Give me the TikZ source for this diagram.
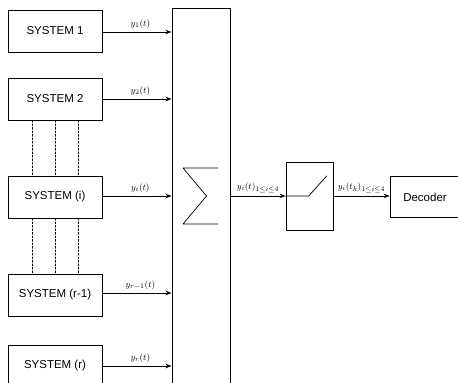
\documentclass[tikz,border=0pt]{standalone}
\usepackage{fontspec}
\setmainfont{Liberation Sans}
\usetikzlibrary{calc}
\usetikzlibrary{arrows.meta}
\tikzstyle{every node}=[font=\fontsize{11.5}{13}\selectfont]
\tikzstyle{every path}=[line width=0.7pt,line cap=round,line join=round]
\newcommand{\lbl}[1]{\fontsize{9.5}{10}\selectfont$#1$}

\begin{document}
\begin{tikzpicture}[x=1pt,y=-1pt]
		\tikzstyle{arrow} = [-{Stealth[length=6pt, width=4.5pt]}]
		\tikzstyle{sysbox} = [draw, minimum width=94pt, minimum height=42pt, inner sep=0pt]
		
		\useasboundingbox (0,0) rectangle (458,383);
		
		\node[sysbox] at (55,31) (s1) {SYSTEM 1};
		\node[sysbox] at (55,99) (s2) {SYSTEM 2};
		\node[sysbox] at (55,197) (si) {SYSTEM (i)};
		\node[sysbox] at (55,295) (sr1) {SYSTEM (r-1)};
		\node[sysbox] at (55,366) (sr) {SYSTEM (r)};
		
		\node[draw, line width=1pt, minimum width=58pt, minimum height=390pt, inner sep=0pt] at (201,203) (sum) {};
		\node[draw, minimum width=47pt, minimum height=68pt, inner sep=0pt] at (309.5,196) (sw) {};
		\node[sysbox, minimum width=70pt, minimum height=41pt] at (425,197) (dec) {Decoder};
		
		% dotted links between the systems
		\foreach \dx in {-23,0,23} {
			\draw[dash pattern=on 2pt off 1.5pt, line width=0.5pt] ($(s2.south)+(\dx,0)$) -- ($(si.north)+(\dx,0)$);
			\draw[dash pattern=on 2pt off 1.5pt, line width=0.5pt] ($(si.south)+(\dx,0)$) -- ($(sr1.north)+(\dx,0)$);
		}
		
		\draw[arrow] ($(s1.east)+(0,1)$) -- node[above, pos=0.55] {\lbl{y_1(t)}} ($(s1.east -| sum.west)+(0,1)$);
		\draw[arrow] (s2.east) -- node[above, pos=0.55] {\lbl{y_2(t)}} (s2.east -| sum.west);
		\draw[arrow] ($(si.east)+(0,-1)$) -- node[above, pos=0.55] {\lbl{y_i(t)}} ($(si.east -| sum.west)+(0,-1)$);
		\draw[arrow] ($(sr1.east)+(0,-2)$) -- node[above, pos=0.55] {\lbl{y_{r-1}(t)}} ($(sr1.east -| sum.west)+(0,-2)$);
		\draw[arrow] (sr.east) -- node[above, pos=0.55] {\lbl{y_r(t)}} (sr.east -| sum.west);
		
		% sigma sign
		\coordinate (sig) at (200.5,196);
		\draw ($(sig)+(17.5,-28)$) -- ($(sig)+(-17.5,-28)$) -- ($(sig)+(6,0)$) -- ($(sig)+(-17.5,28)$) -- ($(sig)+(17.5,28)$);
		
		\draw[arrow] (sw.west -| sum.east) -- node[above] {\lbl{y_i(t)_{1\le i\le 4}}} (sw.west);
		
		% switch contact
		\draw (sw.west) -- ++(23,0) -- ++(18,-20);
		
		\draw[arrow] (sw.east) -- node[above] {\lbl{y_i(t_k)_{1\le i\le 4}}} (sw.east -| dec.west);
		
	\end{tikzpicture}
\end{document}
